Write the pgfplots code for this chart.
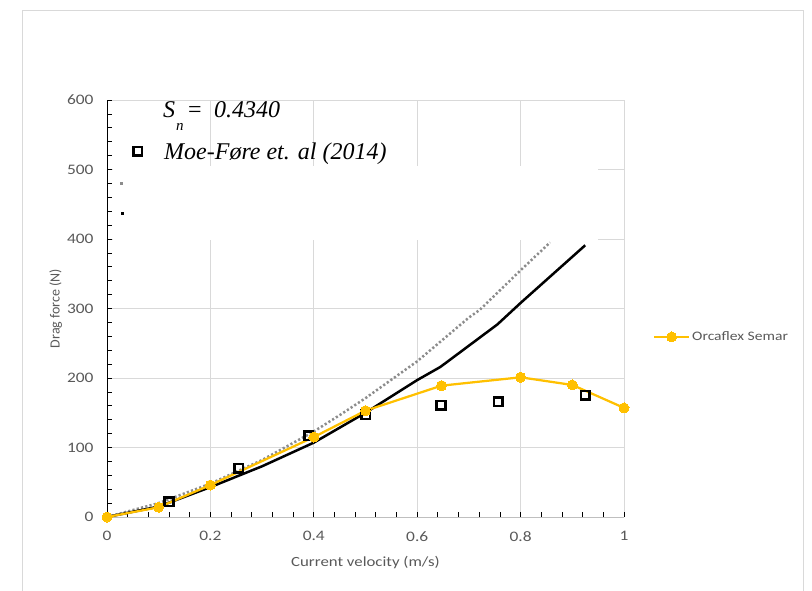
\documentclass[border=0pt]{standalone}
\usepackage{graphicx}
\usepackage{pgfplots}
\pgfplotsset{compat=1.18}
\usepackage{fontspec}
\setmainfont{Carlito}
\newfontfamily\serifit{Liberation Serif}
\definecolor{txtgrey}{HTML}{595959}
\definecolor{gridgrey}{HTML}{D9D9D9}
\definecolor{orca}{HTML}{FFC000}
\definecolor{dotgrey}{HTML}{8C8C8C}
\newcommand{\xs}[1]{\scalebox{1.2}[1]{#1}}
\begin{document}
\begin{tikzpicture}
\path[use as bounding box] (0pt,0pt) rectangle (812pt,590pt);
\draw[gridgrey, line width=1pt] (22pt,-10pt) rectangle (803pt,579pt);
\begin{axis}[
  at={(107pt,73pt)}, anchor=south west,
  scale only axis, width=517pt, height=417pt,
  xmin=0, xmax=1, ymin=0, ymax=600,
  xtick={0,0.2,0.4,0.6,0.8,1}, ytick={0,100,200,300,400,500,600},
  xticklabel={\xs{\pgfmathprintnumber{\tick}}},
  yticklabel={\xs{\pgfmathprintnumber{\tick}}},
  minor x tick num=4, minor y tick num=4,
  axis x line*=bottom, axis y line*=left,
  x axis line style={draw=black!25, line width=1pt},
  y axis line style={draw=black, line width=1pt},
  grid=major, major grid style={gridgrey, line width=1pt},
  tick align=inside,
  tick style={black, line width=0.8pt},
  major tick length=5pt, minor tick length=5pt,
  /pgf/number format/assume math mode=true,
  ticklabel style={font=\fontsize{14.5}{14.5}\selectfont, text=txtgrey},
  yticklabel style={xshift=-10pt},
  xticklabel style={yshift=-11pt},
  xlabel={\xs{Current velocity (m/s)}}, ylabel={Drag force (N)},
  xlabel style={font=\fontsize{14}{14}\selectfont, text=txtgrey,
    at={(axis description cs:0.5,-0.108)}, anchor=center},
  ylabel style={font=\fontsize{14}{14}\selectfont, text=txtgrey},
  ylabel shift=-2pt,
  legend style={at={(axis description cs:1.056,0.4317)}, anchor=west,
    draw=none, fill=none, inner sep=0pt, outer sep=0pt,
    font=\fontsize{13}{13}\selectfont, text=txtgrey,
    nodes={inner sep=2pt}},
  legend cell align=left,
  legend image code/.code={\draw[mark repeat=2,mark phase=2,#1] plot coordinates {(0pt,0pt) (17.5pt,0pt) (35pt,0pt)};},
]
\fill[white] (axis cs:0.012,398) rectangle (axis cs:0.95,505);
\addplot[dotgrey, line width=2.5pt, dash pattern=on 2.2pt off 2.2pt, forget plot] coordinates {
(0,0) (0.1,20) (0.2,48) (0.3,82) (0.4,123) (0.451,147) (0.5,171) (0.6,224) (0.7,287) (0.721,298) (0.8,355) (0.857,395)};
\addplot[black, line width=2.5pt, forget plot] coordinates {
(0,0) (0.1,15) (0.2,43) (0.3,73) (0.4,107) (0.5,150) (0.6,197) (0.645,216) (0.755,277) (0.8,308) (0.925,391)};
\addplot[only marks, mark=square, mark size=4.3pt, line width=2.6pt, black, forget plot] coordinates {
(0.12,22) (0.255,70) (0.39,117) (0.5,147) (0.646,161) (0.757,166) (0.925,175)};
\addplot[only marks, mark=square, mark size=4.3pt, line width=2.6pt, black, forget plot] coordinates {(0.059,526)};
\addplot[only marks, mark=square*, mark size=1.2pt, dotgrey, forget plot] coordinates {(0.027,480)};
\addplot[only marks, mark=square*, mark size=1.2pt, black, forget plot] coordinates {(0.029,437)};
\addplot[orca, line width=2.25pt, mark=*, mark size=5pt, mark options={solid, fill=orca, draw=orca, line width=0pt}] coordinates {
(0,0) (0.1,14) (0.2,46) (0.4,115) (0.5,153) (0.647,189) (0.8,201) (0.9,190) (1.0,157)};
\addlegendentry{\xs{Orcaflex Semar}}
\end{axis}
\node[anchor=base west, inner sep=0pt, font=\serifit\itshape\fontsize{24}{24}\selectfont] at (163pt,472pt) {S};
\node[anchor=base west, inner sep=0pt, font=\serifit\itshape\fontsize{15}{15}\selectfont] at (176pt,459pt) {n};
\node[anchor=base west, inner sep=0pt, font=\serifit\fontsize{24}{24}\selectfont] at (188pt,472pt) {=};
\node[anchor=base west, inner sep=0pt, font=\serifit\itshape\fontsize{24}{24}\selectfont] at (214pt,472pt) {0.4340};
\node[anchor=base west, inner sep=0pt, font=\serifit\itshape\fontsize{24}{24}\selectfont] at (164pt,430pt) {Moe-Føre et. al (2014)};
\end{tikzpicture}
\end{document}
